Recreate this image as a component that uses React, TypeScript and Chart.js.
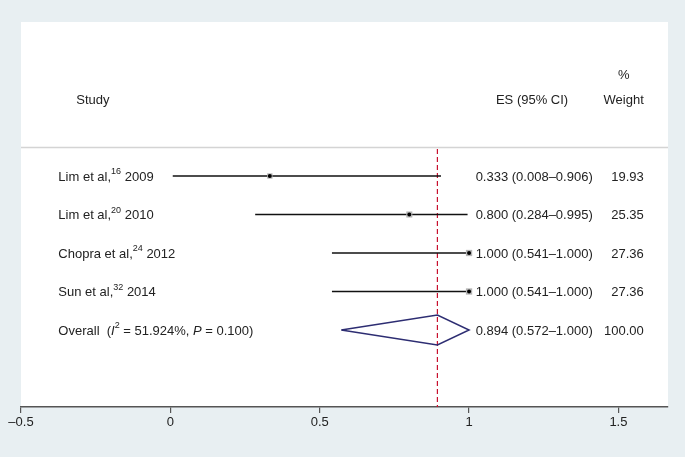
import React, { useEffect, useRef } from "react";
import { Chart, registerables } from "chart.js";

Chart.register(...registerables);

// ---- data ----
const studyNames = ["Lim et al,", "Lim et al,", "Chopra et al,", "Sun et al,"];
const studyRefs = ["16", "20", "24", "32"];
const studyYears = ["2009", "2010", "2012", "2014"];
const esValues = [0.333, 0.8, 1.0, 1.0];
const ciLow = [0.008, 0.284, 0.541, 0.541];
const ciHigh = [0.906, 0.995, 1.0, 1.0];
const weights = [19.93, 25.35, 27.36, 27.36];
const overallEs = 0.894;
const overallLow = 0.572;
const overallHigh = 1.0;
const overallI2 = "51.924%";
const overallP = "0.100";
const overallWeight = "100.00";
const xTicks = [-0.5, 0, 0.5, 1, 1.5];

const FONT = '"Liberation Sans", Arial, Helvetica, sans-serif';
const TEXT_COLOR = "#222222";

type Part = { text: string; italic?: boolean; sup?: boolean };

function drawRich(ctx: CanvasRenderingContext2D, x: number, y: number, parts: Part[]) {
  let cx = x;
  for (const p of parts) {
    const size = p.sup ? 9 : 13;
    ctx.font = `${p.italic ? "italic " : ""}${size}px ${FONT}`;
    ctx.textAlign = "left";
    ctx.textBaseline = "middle";
    ctx.fillText(p.text, cx, p.sup ? y - 5 : y);
    cx += ctx.measureText(p.text).width;
  }
}

const fmt = (v: number) => v.toFixed(3);

const forestPlugin = {
  id: "forest",
  beforeDraw(chart: any) {
    const { ctx, chartArea, width, height } = chart;
    ctx.save();
    ctx.fillStyle = "#e8eff2";
    ctx.fillRect(0, 0, width, height);
    ctx.fillStyle = "#ffffff";
    ctx.fillRect(chartArea.left, chartArea.top, chartArea.right - chartArea.left, chartArea.bottom - chartArea.top);
    // header separator
    const ys = chart.scales.y;
    const sy = ys.getPixelForValue(-0.74);
    ctx.strokeStyle = "#d4d4d4";
    ctx.lineWidth = 1.5;
    ctx.beginPath();
    ctx.moveTo(chartArea.left, sy);
    ctx.lineTo(chartArea.right, sy);
    ctx.stroke();
    ctx.restore();
  },
  afterDatasetsDraw(chart: any) {
    const { ctx } = chart;
    const xs = chart.scales.x;
    const ys = chart.scales.y;
    const Y = (v: number) => ys.getPixelForValue(v) + 1;
    ctx.save();
    ctx.fillStyle = TEXT_COLOR;
    const studyX = xs.getPixelForValue(-0.375);
    const esX = xs.getPixelForValue(1.022);
    const wX = xs.getPixelForValue(1.585);

    // headers
    drawRich(ctx, xs.getPixelForValue(-0.315), Y(-2), [{ text: "Study" }]);
    drawRich(ctx, xs.getPixelForValue(1.09), Y(-2), [{ text: "ES (95% CI)" }]);
    ctx.font = `13px ${FONT}`;
    ctx.textAlign = "center";
    ctx.textBaseline = "middle";
    const wCenter = wX - ctx.measureText("Weight").width / 2;
    ctx.fillText("%", wCenter, Y(-2.63));
    ctx.fillText("Weight", wCenter, Y(-2));

    for (let i = 0; i < studyNames.length; i++) {
      const y = Y(i);
      drawRich(ctx, studyX, y, [
        { text: studyNames[i] },
        { text: studyRefs[i], sup: true },
        { text: " " + studyYears[i] },
      ]);
      drawRich(ctx, esX, y, [{ text: `${fmt(esValues[i])} (${fmt(ciLow[i])}–${fmt(ciHigh[i])})` }]);
      ctx.font = `13px ${FONT}`;
      ctx.textAlign = "right";
      ctx.fillText(weights[i].toFixed(2), wX, y);
    }
    const oy = Y(studyNames.length);
    drawRich(ctx, studyX, oy, [
      { text: "Overall  (" },
      { text: "I", italic: true },
      { text: "2", sup: true },
      { text: " = " + overallI2 + ", " },
      { text: "P", italic: true },
      { text: " = " + overallP + ")" },
    ]);
    drawRich(ctx, esX, oy, [{ text: `${fmt(overallEs)} (${fmt(overallLow)}–${fmt(overallHigh)})` }]);
    ctx.font = `13px ${FONT}`;
    ctx.textAlign = "right";
    ctx.fillText(overallWeight, wX, oy);
    ctx.restore();
  },
};

export default function App() {
  const ref = useRef<HTMLCanvasElement | null>(null);
  useEffect(() => {
    if (!ref.current) return;
    const n = studyNames.length;
    const datasets: any[] = [];
    // reference dashed line (drawn lowest)
    datasets.push({
      type: "scatter",
      order: 5,
      data: [
        { x: overallEs, y: -0.7 },
        { x: overallEs, y: 6 },
      ],
      showLine: true,
      borderColor: "#c8102e",
      borderWidth: 1.2,
      borderDash: [5, 3],
      pointRadius: 0,
    });
    // CI lines
    for (let i = 0; i < n; i++) {
      datasets.push({
        type: "scatter",
        order: 3,
        data: [
          { x: ciLow[i], y: i },
          { x: ciHigh[i], y: i },
        ],
        showLine: true,
        borderColor: "#111111",
        borderWidth: 1.4,
        pointRadius: 0,
      });
    }
    // weight boxes
    datasets.push({
      type: "scatter",
      order: 2,
      data: esValues.map((v, i) => ({ x: v, y: i })),
      pointStyle: "rect",
      pointRadius: weights.map((w) => Math.sqrt(w) * 0.85),
      backgroundColor: "#b4b4b4",
      borderWidth: 0,
    });
    // point estimates
    datasets.push({
      type: "scatter",
      order: 1,
      data: esValues.map((v, i) => ({ x: v, y: i })),
      pointStyle: "circle",
      pointRadius: 2,
      backgroundColor: "#000000",
      borderWidth: 0,
    });
    // diamond
    datasets.push({
      type: "scatter",
      order: 0,
      data: [
        { x: overallLow, y: n },
        { x: overallEs, y: n - 0.39 },
        { x: overallHigh, y: n },
        { x: overallEs, y: n + 0.39 },
        { x: overallLow, y: n },
      ],
      showLine: true,
      borderColor: "#2d2d72",
      borderWidth: 1.5,
      pointRadius: 0,
    });

    const chart = new Chart(ref.current, {
      type: "scatter",
      data: { datasets },
      plugins: [forestPlugin],
      options: {
        animation: false,
        responsive: true,
        maintainAspectRatio: false,
        layout: { padding: { left: 21, right: 17, top: 22, bottom: 0 } },
        plugins: { legend: { display: false }, tooltip: { enabled: false } },
        scales: {
          x: {
            type: "linear",
            position: "bottom",
            min: -0.5,
            max: 1.666,
            afterBuildTicks: (scale: any) => {
              scale.ticks = xTicks.map((v) => ({ value: v }));
            },
            afterFit: (scale: any) => {
              scale.height = 50;
            },
            grid: {
              display: true,
              drawOnChartArea: false,
              drawTicks: true,
              tickLength: 6,
              color: "#555555",
              lineWidth: 1.2,
            },
            border: { display: true, color: "#555555", width: 1.5 },
            ticks: {
              color: TEXT_COLOR,
              font: { family: FONT, size: 13 },
              padding: 2,
              maxRotation: 0,
              autoSkip: false,
              callback: (v: any) => (v < 0 ? "–" + Math.abs(v) : String(v)),
            },
          },
          y: {
            type: "linear",
            display: false,
            reverse: true,
            min: -4,
            max: 6,
          },
        },
      },
    } as any);
    return () => chart.destroy();
  }, []);
  return (
    <div style={{ position: "fixed", left: 0, top: 0, width: 685, height: 457, background: "#e8eff2" }}>
      <canvas ref={ref} />
    </div>
  );
}
